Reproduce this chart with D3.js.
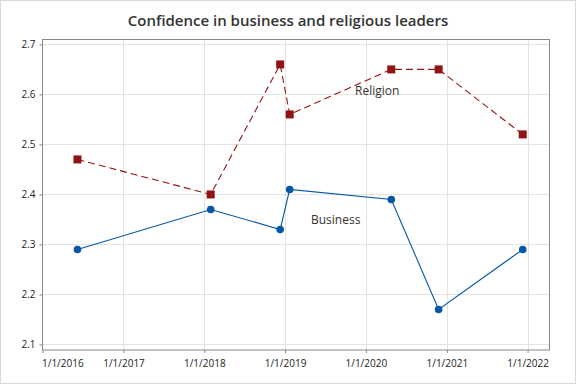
<!DOCTYPE html>
<html>
<head>
<meta charset="utf-8">
<script src="https://cdn.jsdelivr.net/npm/d3@7"></script>
<style>
  body { margin: 0; background: #fff; }
  svg { display: block; font-family: 'Open Sans', sans-serif; }
</style>
</head>
<body>
<div class="container"></div>
<script>
const dates = ['2016-06-07', '2018-01-30', '2018-12-10', '2019-01-22', '2020-04-25', '2020-11-25', '2021-12-10']
const business = [2.29, 2.37, 2.33, 2.41, 2.39, 2.17, 2.29]
const religion = [2.47, 2.40, 2.66, 2.56, 2.65, 2.65, 2.52]
const yTicks = [2.1, 2.2, 2.3, 2.4, 2.5, 2.6, 2.7]
const xTicks = ['2016-01-01', '2017-01-01', '2018-01-01', '2019-01-01', '2020-01-01', '2021-01-01', '2022-01-01']

const w = 576
const h = 384
const plotLeft = 42.5
const plotRight = 549.5
const plotTop = 39.5
const plotBottom = 350

const parse = d3.utcParse('%Y-%m-%d')
const fmt = d => `${d.getUTCMonth() + 1}/${d.getUTCDate()}/${d.getUTCFullYear()}`

const svg = d3.select('.container')
  .append('svg')
  .attr('width', w)
  .attr('height', h)

svg.append('rect')
  .attr('x', 0.5).attr('y', 0.5)
  .attr('width', w - 1).attr('height', h - 1)
  .attr('fill', '#fff')
  .attr('stroke', '#d9d9d9')

const xScale = d3.scaleUtc()
  .domain([parse('2016-01-01'), parse('2022-04-10')])
  .range([plotLeft, plotRight])

const yScale = d3.scaleLinear()
  .domain([2.089, 2.7098])
  .range([plotBottom, plotTop])

// grid
svg.append('g')
  .selectAll('line')
  .data(xTicks.slice(1))
  .join('line')
  .attr('x1', d => Math.round(xScale(parse(d))) + 0.5)
  .attr('x2', d => Math.round(xScale(parse(d))) + 0.5)
  .attr('y1', plotTop)
  .attr('y2', plotBottom)
  .attr('stroke', '#e3e3e3')

svg.append('g')
  .selectAll('line')
  .data(yTicks)
  .join('line')
  .attr('x1', plotLeft)
  .attr('x2', plotRight)
  .attr('y1', d => Math.round(yScale(d)) + 0.5)
  .attr('y2', d => Math.round(yScale(d)) + 0.5)
  .attr('stroke', '#e3e3e3')

// axes
const xAxis = d3.axisBottom(xScale)
  .tickValues(xTicks.map(parse))
  .tickFormat(fmt)
  .tickSize(3)
  .tickSizeOuter(0)

const yAxis = d3.axisLeft(yScale)
  .tickValues(yTicks)
  .tickFormat(d3.format('.1f'))
  .tickSize(3)
  .tickSizeOuter(0)

const gx = svg.append('g')
  .attr('transform', `translate(0, ${plotBottom})`)
  .call(xAxis)
gx.selectAll('text')
  .attr('font-size', 10)
  .attr('font-family', "'Open Sans', sans-serif")
  .attr('fill', '#222')
  .attr('dy', '1.05em')
gx.select('.tick text').attr('text-anchor', 'start').attr('dx', -1)

const gy = svg.append('g')
  .attr('transform', `translate(${plotLeft}, 0)`)
  .call(yAxis)
gy.selectAll('text')
  .attr('font-size', 10)
  .attr('font-family', "'Open Sans', sans-serif")
  .attr('fill', '#222')
  .attr('dx', -1)

svg.selectAll('.domain').remove()
svg.selectAll('.tick line').attr('stroke', '#888')

// frame
svg.append('rect')
  .attr('x', plotLeft).attr('y', plotTop)
  .attr('width', plotRight - plotLeft).attr('height', plotBottom - plotTop)
  .attr('fill', 'none')
  .attr('stroke', '#888')

const line = d3.line()
  .x((d, i) => xScale(parse(dates[i])))
  .y(d => yScale(d))

const blue = '#0456a6'
const red = '#901414'

svg.append('path')
  .datum(religion)
  .attr('d', line)
  .attr('fill', 'none')
  .attr('stroke', red)
  .attr('stroke-width', 1.1)
  .attr('stroke-dasharray', '7,4')

svg.append('path')
  .datum(business)
  .attr('d', line)
  .attr('fill', 'none')
  .attr('stroke', blue)
  .attr('stroke-width', 1.1)

svg.append('g')
  .selectAll('rect')
  .data(religion)
  .join('rect')
  .attr('x', (d, i) => xScale(parse(dates[i])) - 4)
  .attr('y', d => yScale(d) - 4)
  .attr('width', 8)
  .attr('height', 8)
  .attr('fill', red)

svg.append('g')
  .selectAll('circle')
  .data(business)
  .join('circle')
  .attr('cx', (d, i) => xScale(parse(dates[i])))
  .attr('cy', d => yScale(d))
  .attr('r', 3.8)
  .attr('fill', blue)

svg.append('text')
  .text('Religion')
  .attr('x', 355)
  .attr('y', 95)
  .attr('font-size', 12)
  .attr('fill', '#333')

svg.append('text')
  .text('Business')
  .attr('x', 311)
  .attr('y', 224)
  .attr('font-size', 12)
  .attr('fill', '#333')

svg.append('text')
  .text('Confidence in business and religious leaders')
  .attr('x', 288)
  .attr('y', 26)
  .attr('text-anchor', 'middle')
  .attr('font-size', 15)
  .attr('font-weight', 600)
  .attr('fill', '#333')
</script>
</body>
</html>
